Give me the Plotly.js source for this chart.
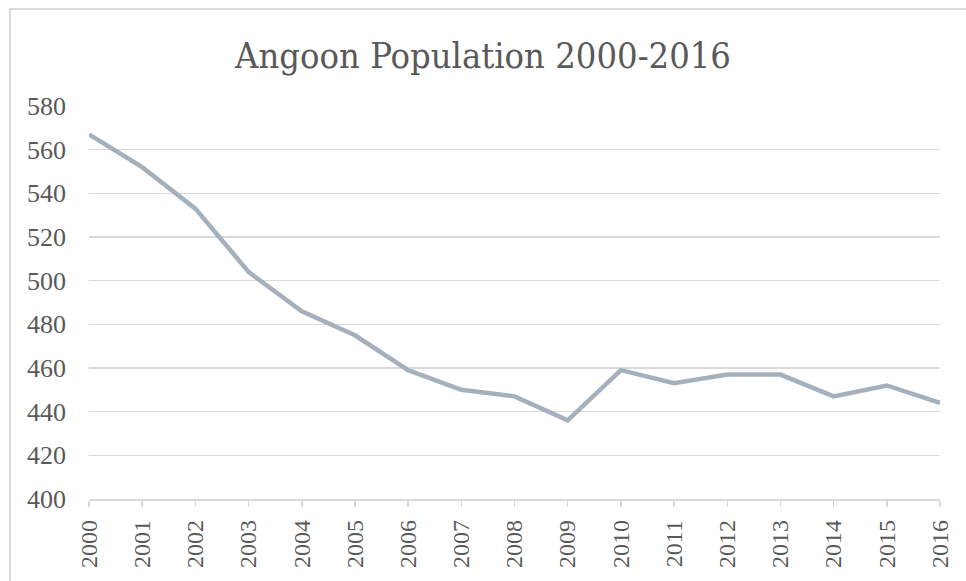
<!DOCTYPE html>
<html>
<head>
<meta charset="utf-8">
<script src="https://cdn.plot.ly/plotly-3.0.1.min.js"></script>
<style>
  html, body { margin: 0; padding: 0; background: #fff; }
  #wrap { position: relative; width: 966px; height: 581px; overflow: hidden; }
  #chart { position: absolute; left: 0; top: 0; width: 966px; height: 581px; }
  #frame { position: absolute; left: 9px; top: 8px; width: 1000px; height: 640px;
           border: 2px solid #d9d9d9; pointer-events: none; box-sizing: border-box; }
</style>
</head>
<body>
<div id="wrap">
  <div id="chart"></div>
  <div id="frame"></div>
</div>
<script>
const years = ["2000","2001","2002","2003","2004","2005","2006","2007","2008",
               "2009","2010","2011","2012","2013","2014","2015","2016"];
const population = [567, 552, 533, 504, 486, 475, 459, 450, 447,
                    436, 459, 453, 457, 457, 447, 452, 444];
const yTicks = [400, 420, 440, 460, 480, 500, 520, 540, 560, 580];
const chartTitle = "Angoon Population 2000-2016";

const trace = {
  x: years,
  y: population,
  type: "scatter",
  mode: "lines",
  line: { color: "#a5b0bd", width: 4.5 },
  hoverinfo: "x+y"
};

const layout = {
  width: 966,
  height: 581,
  paper_bgcolor: "rgba(0,0,0,0)",
  plot_bgcolor: "rgba(0,0,0,0)",
  margin: { l: 89, r: 26, t: 106, b: 82 },
  showlegend: false,
  title: {
    text: chartTitle,
    font: { family: "DejaVu Serif Condensed, DejaVu Serif, serif", size: 36, color: "#595959" },
    x: 0.5, xanchor: "center",
    y: 1 - 55 / 581, yanchor: "middle", yref: "container"
  },
  xaxis: {
    type: "category",
    range: [0, years.length - 1],
    tickangle: -90,
    ticks: "outside",
    ticklen: 6,
    tickwidth: 1.5,
    tickcolor: "#d9d9d9",
    showline: true,
    linecolor: "#d9d9d9",
    linewidth: 1.5,
    showgrid: false,
    zeroline: false,
    ticklabelstandoff: 4,
    tickfont: { family: "Liberation Serif, serif", size: 24, color: "#595959" }
  },
  yaxis: {
    range: [400, 580],
    tickvals: yTicks,
    ticktext: yTicks.map(String),
    showgrid: true,
    gridcolor: "#d9d9d9",
    gridwidth: 1.3,
    zeroline: false,
    showline: false,
    ticks: "",
    ticklabelstandoff: 22,
    tickfont: { family: "Liberation Serif, serif", size: 26, color: "#595959" }
  }
};

Plotly.newPlot("chart", [trace], layout, { displayModeBar: false, staticPlot: true });
</script>
</body>
</html>
